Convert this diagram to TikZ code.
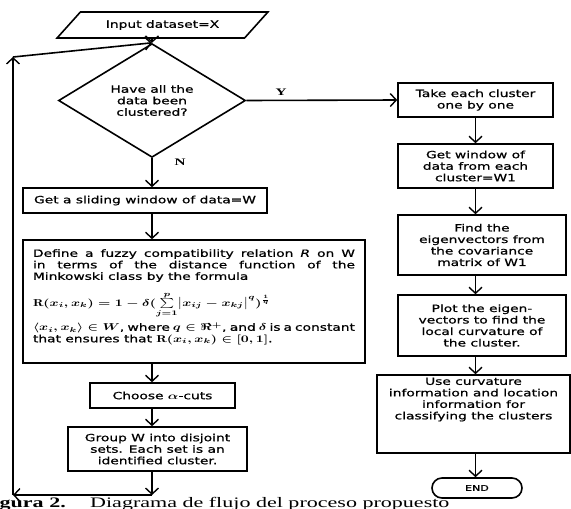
\documentclass[tikz,border=0pt]{standalone}
\usepackage{amsmath, amssymb}
\usepackage{fontspec}
\usepackage{tikz}
\usetikzlibrary{arrows.meta, positioning, shapes.geometric, shapes.misc, calc}
\newfontfamily\boxfont[FakeStretch=1.38, FakeBold=0.8]{DejaVu Sans}
\newfontfamily\capfont[FakeStretch=1.52]{Liberation Serif}
\newcommand{\widemath}[1]{\scalebox{1.38}[1]{\boldmath#1}}

\begin{document}
\begin{tikzpicture}[
  x=1pt, y=-1pt,
  every node/.style={font=\boxfont\fontsize{10}{11.5}\selectfont},
  proc/.style={draw, line width=1.6pt, align=center, inner sep=0pt},
  io/.style={draw, line width=1.6pt, trapezium, trapezium left angle=31, trapezium right angle=149, trapezium stretches=true, inner sep=0pt},
  decision/.style={draw, line width=1.6pt, diamond, align=center, inner sep=0pt},
  term/.style={draw, line width=1.6pt, rounded rectangle, inner sep=0pt, font=\boxfont\fontsize{8}{9}\selectfont},
  arrow/.style={-{Straight Barb[length=6pt, width=13pt, line width=1.4pt]}, line width=1.6pt},
  lab/.style={font=\capfont\fontsize{10}{12}\selectfont\bfseries},
  caption/.style={font=\capfont\fontsize{14.5}{16}\selectfont, inner sep=0pt}
]
  \useasboundingbox (0,0) rectangle (571,509);

  % left column
  \node[io, minimum width=211, minimum height=26] (input) at (162.5, 25) {Input dataset=X};
  \node[decision, minimum width=187, minimum height=85] (dec) at (152, 100.5) {Have all the\\data been\\clustered?};
  \node[proc, minimum width=244, minimum height=25] (slide) at (145, 200.5) {Get a sliding window of data=W};
  \node[proc, minimum width=342, minimum height=123, text width=322, align=justify] (fuzzy) at (194, 301.5) {%
    Define a fuzzy compatibility relation \textit{R} on W\linebreak
    in terms of the distance function of the\linebreak
    Minkowski class by the formula\\[9pt]
    \widemath{$\mathrm{R}(x_i,x_k)=1-\delta(\sum\limits_{j=1}^{p}\bigl|x_{ij}-x_{kj}\bigr|^{q})^{\frac{1}{q}}$}\\[4pt]
    \widemath{$\langle x_i,x_k\rangle\in W$}, where \widemath{$q\in\Re^{+}$}, and \widemath{$\delta$} is a constant\\
    that ensures that \widemath{$\mathrm{R}(x_i,x_k)\in[0,1]$}.\\
    \rule{0pt}{6pt}};
  \node[proc, minimum width=145, minimum height=25] (cuts) at (162.5, 395.5) {Choose \widemath{$\alpha$}-cuts};
  \node[proc, minimum width=179, minimum height=44] (group) at (157.5, 449) {Group W into disjoint\\sets. Each set is an\\identified cluster.};

  % right column
  \node[proc, minimum width=155, minimum height=34] (take) at (475.5, 100) {Take each cluster\\one by one};
  \node[proc, minimum width=155, minimum height=44] (win) at (475.5, 166) {Get window of\\data from each\\cluster=W1};
  \node[proc, minimum width=168, minimum height=60] (eigen) at (482, 245) {Find the\\eigenvectors from\\the covariance\\matrix of W1};
  \node[proc, minimum width=168, minimum height=61] (plot) at (482, 325.5) {Plot the eigen-\\vectors to find the\\local curvature of\\the cluster.};
  \node[proc, minimum width=193, minimum height=78] (use) at (473.5, 414) {Use curvature\\information and location\\information for\\classifying the clusters\\\rule{0pt}{28pt}};
  \node[term, minimum width=90, minimum height=20] (stop) at (477, 488) {END};

  % branch labels
  \node[lab] (ylab) at (281, 92) {Y};
  \node[lab] (nlab) at (180, 162) {N};

  % caption
  \node[caption, anchor=base east] (fignum) at (66, 507) {\bfseries Figura 2.};
  \node[caption, anchor=base west] (figtext) at (90, 507) {Diagrama de flujo del proceso propuesto};

  % loop back
  \coordinate (loopa) at (152, 495);
  \coordinate (loopb) at (13, 495);
  \coordinate (loopc) at (13, 57);

  \draw[arrow] (input.south -| dec.north) -- (dec.north);
  \draw[arrow] (dec.east) -- (take.west);
  \draw[arrow] (dec.south) -- (slide.north -| dec.south);
  \draw[arrow] (slide.south -| dec.south) -- (fuzzy.north -| dec.south);
  \draw[arrow] (fuzzy.south -| dec.south) -- (cuts.north -| dec.south);
  \draw[arrow] (cuts.south -| dec.south) -- (group.north -| dec.south);
  \draw[arrow] (group.south -| dec.south) -- (loopa);
  \draw[arrow] (loopa) -- (loopb);
  \draw[arrow] (loopb) -- (loopc);
  \draw[arrow] (loopc) -- (dec.north);

  \draw[arrow] (take) -- (win);
  \draw[arrow] (win.south -| take.south) -- (eigen.north -| take.south);
  \draw[arrow] (eigen.south -| take.south) -- (plot.north -| take.south);
  \draw[arrow] (plot.south -| take.south) -- (use.north -| take.south);
  \draw[arrow] (use.south -| take.south) -- (stop.north -| take.south);

\end{tikzpicture}
\end{document}
